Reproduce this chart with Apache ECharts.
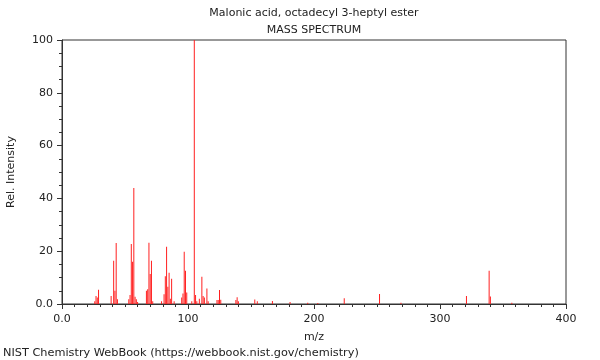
<!DOCTYPE html>
<html><head><meta charset="utf-8">
<script src="https://cdn.jsdelivr.net/npm/echarts@6/dist/echarts.min.js"></script>
<style>html,body{margin:0;padding:0;background:#fff}#c{width:600px;height:360px}</style>
</head><body><div id="c"></div>
<script>
const titleLine1 = 'Malonic acid, octadecyl 3-heptyl ester';
const titleLine2 = 'MASS SPECTRUM';
const footer = 'NIST Chemistry WebBook (https://webbook.nist.gov/chemistry)';
const xName = 'm/z';
const yName = 'Rel. Intensity';
const mz = [26,27,28,29,39,41,42,43,44,53,54,55,56,57,58,59,60,67,68,69,70,71,72,79,81,82,83,84,85,86,87,89,95,96,97,98,99,103,105,106,107,109,111,112,113,115,116,123,124,125,126,138,139,140,153,155,167,181,195,203,224,252,269,321,339,340,357];
const intensity = [1,3,2.5,5.4,3,16.4,5,23.1,1.8,1.8,3.4,22.7,16,43.9,2.7,1.8,0.8,5,5.6,23.2,11.4,16.4,1,1,3.7,10.5,21.7,6.5,11.8,2,9.6,1,2.5,4,19.8,12.6,4.4,1,100,3.4,1,2,10.3,3,2.5,5.9,1,1.5,1.5,5.3,1.6,1.5,2.6,1,1.7,1,1.1,0.8,0.5,0.4,2.2,3.8,0.5,3,12.6,2.8,0.5];
const data = mz.map((m,i)=>[m,intensity[i]]);
const chart = echarts.init(document.getElementById('c'));
const font = 'DejaVu Sans';
chart.setOption({
  animation:false,
  backgroundColor:'#fff',
  grid:{left:62,right:34,top:40,bottom:56,containLabel:false,outerBoundsMode:'none',show:true,borderColor:'#333',borderWidth:1,backgroundColor:'transparent'},
  xAxis:{type:'value',min:0,max:400,interval:100,
    name:xName,nameLocation:'middle',nameGap:28,nameTextStyle:{fontFamily:font,fontSize:11,color:'#222'},
    axisLine:{lineStyle:{color:'#333'}},
    axisTick:{show:true,length:5,lineStyle:{color:'#333'}},
    minorTick:{show:true,splitNumber:10,length:3,lineStyle:{color:'#333'}},
    splitLine:{show:false},
    axisLabel:{fontFamily:font,fontSize:11,color:'#222',margin:10,formatter:v=>v===0?'0.0':String(v)}},
  yAxis:{type:'value',min:0,max:100,interval:20,
    name:yName,nameLocation:'middle',nameGap:45,nameTextStyle:{fontFamily:font,fontSize:11,color:'#222'},
    axisLine:{show:true,lineStyle:{color:'#333'}},
    axisTick:{show:true,length:5,lineStyle:{color:'#333'}},
    minorTick:{show:true,splitNumber:4,length:3,lineStyle:{color:'#333'}},
    splitLine:{show:false},
    axisLabel:{fontFamily:font,fontSize:11,color:'#222',margin:9,formatter:v=>v===0?'0.0':String(v)}},
  series:[{type:'bar',data:data,barWidth:1,itemStyle:{color:'#ff2020'},silent:true}],
  graphic:[
    {type:'text',x:314,y:13,style:{text:titleLine1,textAlign:'center',textVerticalAlign:'middle',fontFamily:font,fontSize:11,fill:'#222'}},
    {type:'text',x:314,y:30,style:{text:titleLine2,textAlign:'center',textVerticalAlign:'middle',fontFamily:font,fontSize:11,fill:'#222'}},
    {type:'text',x:3,y:353,style:{text:footer,textAlign:'left',textVerticalAlign:'middle',fontFamily:font,fontSize:11.3,fill:'#222'}}
  ]
});
</script></body></html>
